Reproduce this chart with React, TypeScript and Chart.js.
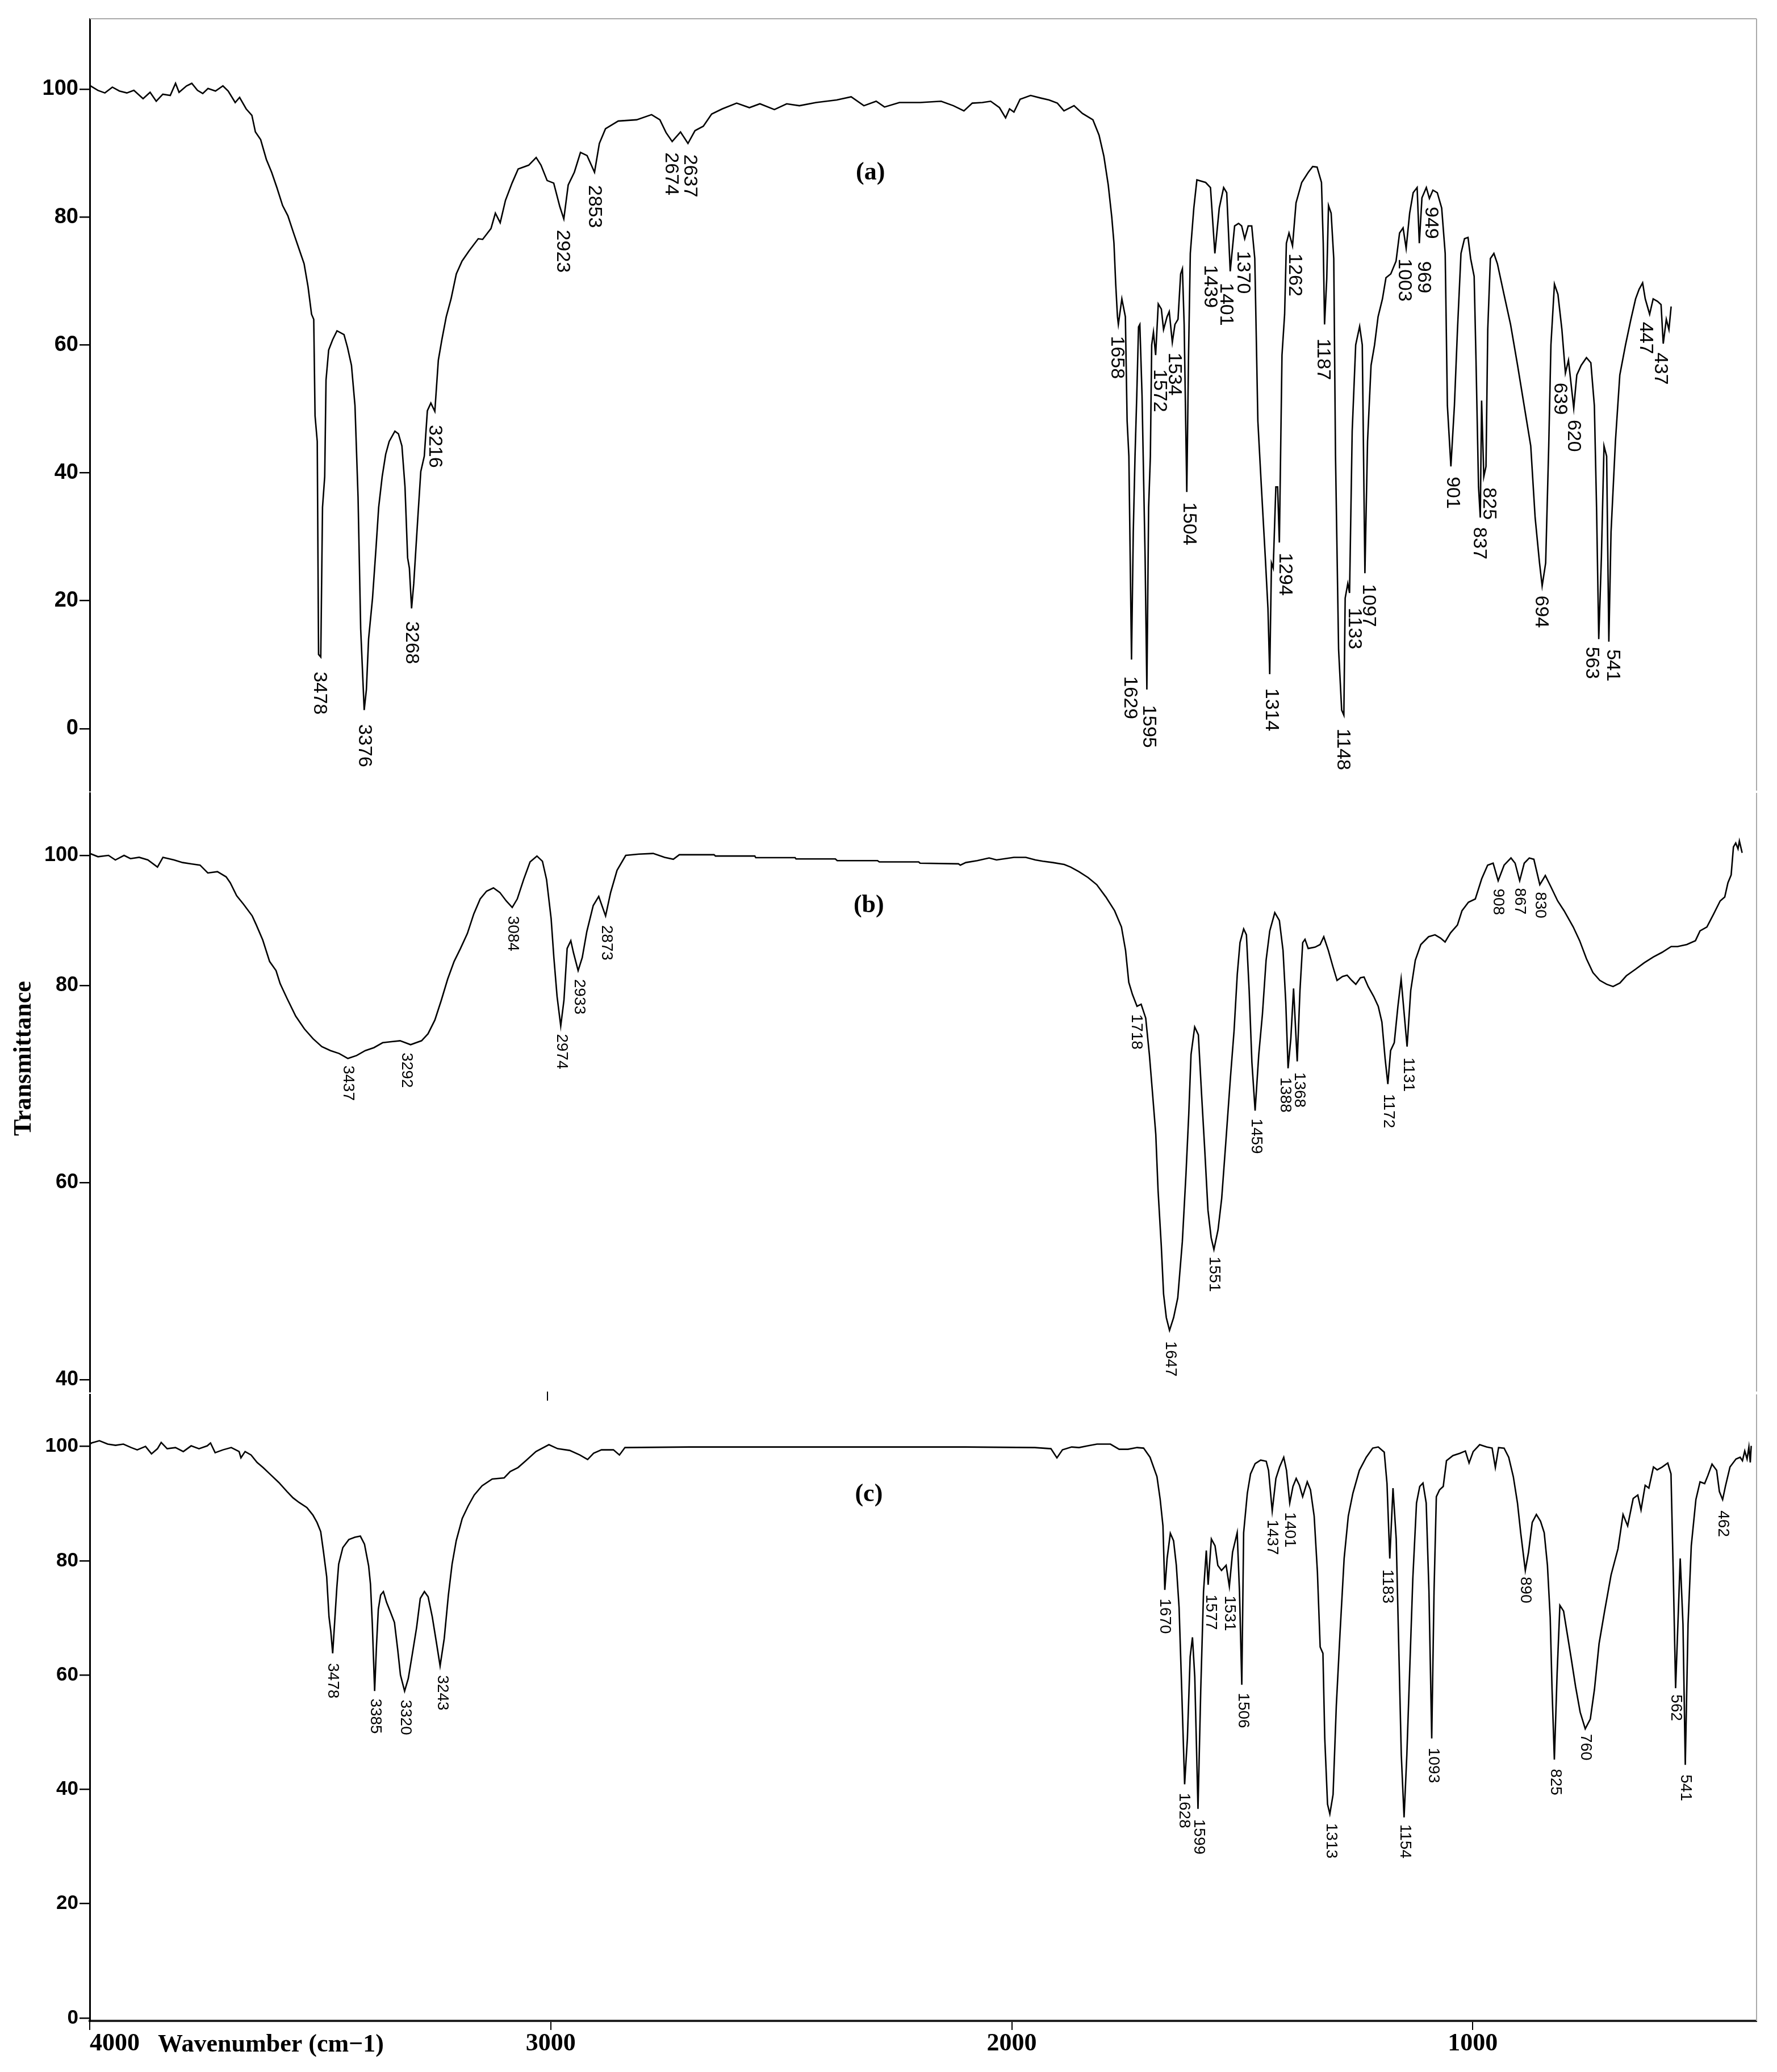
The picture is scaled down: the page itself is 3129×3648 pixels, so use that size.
import React, { useEffect, useRef } from 'react';
import { Chart, registerables, LinearScale } from 'chart.js';

Chart.register(...registerables);

// ---------- piece-wise y scale used by panel (b): 80-100 band is compressed ----------
const BREAK_AT = 80;
const BREAK_K = 0.6607;
const toVirtual = (v: number) => (v <= BREAK_AT ? v : BREAK_AT + (v - BREAK_AT) * BREAK_K);
const fromVirtual = (u: number) => (u <= BREAK_AT ? u : BREAK_AT + (u - BREAK_AT) / BREAK_K);

class BrokenLinearScale extends LinearScale {
  static id = 'brokenLinear';
  getPixelForValue(value: number) {
    return super.getPixelForValue(toVirtual(value));
  }
  getValueForPixel(pixel: number) {
    return fromVirtual(super.getValueForPixel(pixel) as number);
  }
}
Chart.register(BrokenLinearScale);

const SANS = '"Liberation Sans", Arial, sans-serif';
const SERIF = '"Liberation Serif", "Times New Roman", serif';

// ---------------- DATA ----------------
const yTicksAC = [0, 20, 40, 60, 80, 100];
const yTicksB = [40, 60, 80, 100];
const xTickValues = [1000, 2000, 3000, 4000];
const xAxisTitle = 'Wavenumber (cm\u22121)';
const yAxisTitle = 'Transmittance';
const panelTags = ['(a)', '(b)', '(c)'];

// Panel (a)
const waveA = [4000,3983,3967,3950,3934,3917,3901,3880,3864,3850,3835,3818,3806,3798,3781,3769,3756,3744,3732,3715,3698,3686,3670,3660,3645,3632,3624,3612,3599,3587,3575,3562,3550,3537,3525,3513,3504,3496,3491,3488,3483,3480,3475,3471,3466,3463,3457,3448,3438,3422,3414,3405,3397,3390,3384,3376,3371,3366,3357,3349,3343,3335,3327,3319,3306,3298,3290,3283,3277,3273,3268,3263,3258,3253,3247,3239,3232,3224,3215,3207,3199,3189,3178,3166,3153,3137,3116,3106,3087,3077,3066,3054,3039,3025,3001,2984,2973,2959,2944,2930,2921,2911,2897,2883,2868,2851,2840,2826,2797,2755,2721,2702,2688,2674,2655,2638,2622,2603,2584,2560,2527,2498,2474,2441,2413,2384,2346,2299,2266,2237,2209,2190,2156,2109,2061,2033,2009,1990,1967,1948,1928,1914,1905,1895,1881,1857,1834,1815,1796,1781,1758,1739,1715,1701,1690,1680,1672,1667,1663,1659,1657,1649,1641,1637,1633,1627,1623,1619,1615,1611,1608,1603,1596,1592,1588,1584,1581,1577,1572,1566,1559,1554,1546,1541,1534,1528,1521,1515,1511,1507,1501,1497,1493,1485,1478,1458,1447,1437,1427,1417,1410,1402,1392,1383,1376,1369,1361,1353,1346,1339,1331,1322,1316,1312,1308,1304,1298,1294,1290,1284,1278,1274,1268,1260,1252,1239,1224,1214,1204,1194,1190,1187,1182,1178,1172,1166,1162,1155,1148,1143,1140,1134,1130,1124,1116,1107,1101,1095,1089,1081,1073,1065,1055,1047,1036,1024,1016,1008,1001,993,985,976,971,965,955,948,940,930,920,912,907,899,891,884,876,868,860,854,846,842,836,832,829,824,819,815,809,801,793,778,763,747,732,717,707,697,691,683,676,671,663,655,646,638,631,619,612,602,590,580,572,567,562,556,550,544,539,534,524,514,501,489,478,470,462,456,446,438,428,420,415,408,402,397];
const transA = [100.5,99.8,99.4,100.3,99.7,99.4,99.8,98.5,99.5,98.1,99.2,99.0,100.9,99.5,100.5,100.9,99.8,99.3,100.1,99.7,100.5,99.7,97.9,98.7,96.9,95.9,93.3,92.1,89.0,87.0,84.6,81.8,80.2,77.5,75.1,72.7,69.1,64.8,64.0,48.9,44.9,11.6,11.2,34.6,39.4,54.5,59.2,60.8,62.2,61.6,59.6,56.8,50.5,36.2,15.6,2.9,6.1,14.0,20.4,28.3,34.6,39.4,42.9,44.9,46.5,46.1,44.2,37.8,26.7,25.1,18.8,22.7,28.3,33.8,40.2,42.6,49.7,50.9,49.6,57.6,60.8,64.4,67.2,71.1,73.1,74.7,76.6,76.5,78.2,80.6,79.1,82.6,85.3,87.5,88.1,89.3,88.1,85.7,85.3,81.6,79.7,85.0,87.0,90.1,89.6,87.0,91.5,93.8,95.0,95.2,96.0,95.2,93.2,91.8,93.3,91.5,93.5,94.2,96.1,96.9,97.8,97.1,97.7,96.8,97.7,97.4,97.9,98.3,98.8,97.4,98.1,97.2,97.9,97.9,98.1,97.4,96.6,97.8,97.9,98.1,97.1,95.5,96.9,96.4,98.4,99.0,98.6,98.3,97.8,96.6,97.4,96.2,95.2,92.8,89.5,85.0,80.0,75.9,69.5,64.4,63.2,67.2,64.4,48.1,42.6,10.8,30.7,42.6,52.1,62.8,63.2,52.1,26.7,6.1,34.6,42.6,60.0,62.0,58.4,66.4,65.6,62.4,64.4,65.2,60.4,63.2,64.0,71.1,71.9,63.2,37.0,58.4,74.3,81.4,85.8,85.4,84.6,74.3,81.4,84.6,83.8,71.5,78.6,79.0,78.6,76.6,78.6,78.6,73.5,48.1,37.8,26.7,18.8,8.5,25.9,25.1,37.8,37.8,29.1,58.4,64.8,75.9,77.5,75.5,82.2,85.4,87.0,87.9,87.8,85.4,75.9,63.2,70.3,81.8,80.6,73.5,42.6,12.4,2.9,2.1,20.4,22.7,21.2,46.5,60.0,62.9,60.0,24.3,44.9,56.8,60.0,64.4,67.2,70.5,71.1,73.1,77.5,78.3,75.1,80.6,83.8,84.6,75.9,83.0,84.6,82.9,84.2,83.8,81.4,74.3,50.5,41.0,50.5,62.4,74.3,76.6,76.8,73.5,70.7,58.4,37.8,33.0,51.3,39.4,41.0,62.4,73.5,74.3,72.7,67.9,63.2,56.8,50.5,44.2,33.0,25.9,22.3,25.9,44.2,60.0,69.5,67.9,62.4,55.6,57.6,50.1,55.3,56.8,58.0,57.2,50.5,34.6,14.0,26.7,44.2,42.6,13.6,30.7,44.9,55.3,60.0,63.9,67.2,68.7,69.7,67.2,64.8,67.2,66.8,66.3,60.2,64.0,62.4,66.0];
const peakTextA = ['3478','3376','3268','3216','2923','2853','2674','2637','1658','1629','1595','1572','1534','1504','1439','1401','1370','1314','1294','1262','1187','1148','1133','1097','1003','969','949','901','837','825','694','639','620','563','541','447','437'];
const peakWaveA = [3478,3376,3269,3215,2924,2851,2677,2634,1661,1631,1588,1564,1530,1496,1448,1412,1373,1308,1278,1256,1191,1146,1120,1087,1006,962,945,896,835,813,694,651,620,578,531,456,422];
const peakTransA = [8.9,0.7,16.8,47.5,78.0,85.0,90.1,89.8,61.4,8.2,3.7,56.2,58.8,35.4,72.5,69.7,74.7,6.3,27.5,74.3,61.0,0.0,18.9,22.6,73.5,73.1,81.6,39.4,31.5,37.7,20.8,54.1,48.3,12.8,12.4,63.6,58.8];

// Panel (b)
const waveB = [4000,3982,3959,3944,3925,3911,3892,3873,3852,3840,3816,3797,3778,3759,3742,3721,3702,3693,3679,3664,3645,3636,3622,3607,3593,3584,3569,3550,3531,3512,3493,3474,3455,3436,3417,3398,3379,3360,3341,3322,3299,3275,3261,3246,3232,3218,3204,3190,3175,3161,3147,3133,3118,3104,3090,3077,3066,3052,3038,3023,3011,3002,2992,2986,2979,2971,2964,2957,2949,2943,2933,2924,2914,2900,2888,2873,2862,2848,2829,2800,2769,2744,2725,2712,2636,2633,2547,2545,2459,2457,2371,2367,2279,2275,2189,2186,2102,2098,2086,2061,2035,2019,2000,1981,1955,1934,1918,1896,1871,1857,1839,1819,1800,1780,1761,1746,1737,1730,1722,1712,1703,1693,1685,1678,1671,1666,1659,1654,1648,1641,1632,1623,1613,1605,1599,1594,1586,1578,1571,1564,1557,1550,1544,1535,1527,1518,1508,1500,1493,1487,1479,1473,1467,1461,1454,1446,1438,1430,1422,1411,1401,1393,1387,1382,1376,1370,1362,1356,1350,1345,1338,1323,1312,1304,1294,1284,1275,1263,1253,1243,1234,1224,1216,1207,1195,1185,1177,1170,1164,1158,1150,1142,1135,1129,1122,1114,1104,1092,1075,1061,1049,1039,1027,1012,1002,988,973,959,946,934,923,910,895,886,876,866,855,845,832,820,808,793,779,759,745,730,716,701,686,672,657,643,623,604,584,565,545,531,511,492,482,467,453,438,428,421,414,409,404,399,396,390];
const transB = [100.3,99.8,100.0,99.3,100.0,99.5,99.7,99.3,98.2,99.7,99.3,98.9,98.7,98.5,97.3,97.5,96.7,95.8,93.8,92.5,90.7,89.3,87.0,83.7,82.3,80.3,78.7,76.9,75.6,74.6,73.8,73.4,73.1,72.6,72.9,73.4,73.7,74.2,74.3,74.4,74.0,74.4,75.1,76.5,78.5,81.0,83.7,85.7,88.0,91.0,93.3,94.5,95.0,94.3,93.0,92.0,93.3,96.3,99.0,99.9,99.1,96.3,90.3,84.3,78.9,75.9,78.5,85.7,86.9,85.0,82.3,84.3,88.3,92.3,93.7,90.7,94.3,97.7,100.0,100.2,100.3,99.7,99.4,100.1,100.1,99.9,99.9,99.65,99.65,99.45,99.45,99.2,99.2,99.0,99.0,98.8,98.7,98.5,98.9,99.2,99.6,99.3,99.5,99.7,99.7,99.3,99.1,98.9,98.6,98.2,97.5,96.6,95.5,93.6,91.5,89.0,85.4,80.5,79.1,77.9,78.1,76.7,73.0,69.0,64.9,59.2,53.6,48.7,46.3,45.0,46.3,48.3,54.0,60.9,66.9,73.0,75.8,75.0,69.0,63.3,57.2,54.4,53.2,55.2,58.4,64.1,70.6,75.4,81.7,86.6,88.7,87.8,79.5,72.2,67.3,73.0,77.1,83.9,88.4,91.2,90.0,85.4,78.3,71.6,74.6,79.7,72.3,79.5,86.6,87.1,85.7,85.9,86.3,87.5,85.4,82.9,80.8,81.4,81.6,80.8,80.2,81.2,81.3,79.9,78.9,77.9,76.3,72.6,70.0,73.4,74.2,77.9,81.0,77.5,73.8,79.5,83.9,86.3,87.5,87.8,87.3,86.7,88.1,89.3,91.5,92.8,93.3,96.4,98.5,98.8,96.1,98.5,99.6,98.8,96.1,98.8,99.6,99.4,95.5,96.9,95.2,93.0,91.5,89.0,86.9,84.1,82.0,80.8,80.2,79.9,80.4,81.5,82.5,83.5,84.4,85.1,86.0,86.0,86.3,86.9,88.4,89.0,90.9,93.0,93.6,95.8,97.0,101.3,101.9,101.0,102.2,100.4];
const peakTextB = ['3437','3292','3084','2974','2933','2873','1718','1647','1551','1459','1388','1368','1172','1131','908','867','830'];
const peakWaveB = [3436,3308,3076,2969,2931,2871,1714,1639,1544,1452,1389,1358,1163,1119,923,876,832];
const peakTransB = [71.9,73.2,90.7,75.1,81.0,89.3,77.1,43.9,52.5,66.5,70.7,71.2,69.0,72.7,94.9,95.0,94.4];

// Panel (c)
const waveC = [4000,3996,3979,3961,3944,3927,3910,3897,3879,3866,3853,3845,3832,3814,3797,3780,3763,3745,3738,3728,3711,3693,3676,3672,3663,3650,3637,3624,3607,3590,3572,3559,3546,3529,3516,3507,3499,3493,3486,3481,3477,3473,3469,3464,3460,3451,3438,3425,3413,3404,3395,3391,3387,3382,3378,3374,3369,3363,3356,3348,3339,3332,3326,3317,3309,3300,3291,3283,3274,3266,3257,3248,3240,3231,3222,3214,3205,3192,3179,3166,3149,3127,3101,3088,3071,3054,3032,3004,2985,2959,2937,2920,2907,2890,2864,2851,2839,2700,2500,2300,2100,1950,1915,1902,1890,1870,1854,1835,1815,1786,1767,1748,1728,1714,1700,1685,1678,1672,1668,1663,1656,1649,1643,1637,1632,1625,1619,1613,1608,1603,1596,1590,1584,1578,1574,1567,1559,1553,1545,1535,1528,1521,1511,1506,1501,1497,1489,1482,1472,1460,1448,1443,1435,1427,1419,1410,1404,1397,1390,1383,1376,1369,1359,1352,1344,1337,1331,1325,1321,1315,1310,1303,1296,1288,1279,1270,1260,1246,1231,1217,1205,1192,1186,1180,1173,1166,1160,1155,1149,1143,1137,1130,1122,1115,1108,1101,1095,1089,1084,1079,1072,1064,1057,1043,1028,1016,1008,999,985,970,958,951,944,932,922,912,903,896,886,879,871,862,853,845,838,832,828,823,817,811,803,795,787,777,767,756,745,736,726,714,700,685,674,664,652,642,635,626,618,608,600,589,577,570,565,560,555,550,544,539,533,526,516,507,497,490,481,471,465,458,452,442,429,420,415,410,405,401,398,396];
const transC = [100.4,100.6,101.0,100.4,100.2,100.4,99.8,99.4,100.0,98.7,99.6,100.7,99.6,99.8,99.1,100.1,99.6,100.1,100.6,98.9,99.4,99.8,99.1,98.0,99.1,98.5,97.2,96.3,95.0,93.7,92.1,91.0,90.2,89.3,88.0,86.7,85.1,81.6,77.2,70.2,67.6,63.8,68.9,75.3,79.4,82.3,83.7,84.1,84.3,82.9,79.1,75.9,68.9,57.2,65.1,71.5,74.0,74.6,72.7,71.1,69.2,64.5,60.0,57.2,59.4,63.8,68.3,73.4,74.6,73.7,70.2,65.7,61.6,66.4,74.0,79.4,83.5,87.4,89.6,91.5,93.1,94.3,94.5,95.6,96.3,97.5,99.1,100.3,99.6,99.3,98.5,97.7,98.8,99.4,99.4,98.5,99.8,99.9,99.9,99.9,99.9,99.8,99.6,98.0,99.4,99.9,99.8,100.1,100.4,100.4,99.5,99.5,99.8,99.7,98.1,94.7,90.7,86.1,74.9,80.4,84.8,83.5,79.2,71.8,59.2,40.9,48.9,63.2,66.6,59.7,36.6,57.5,74.6,81.8,75.8,83.8,82.6,79.2,78.3,79.2,75.5,81.5,84.9,74.6,58.3,84.9,91.8,95.2,97.0,97.6,97.4,95.8,88.7,94.4,96.4,98.1,95.8,90.1,93.0,94.4,93.2,91.2,93.8,92.4,87.8,78.1,64.9,63.8,48.9,37.4,35.7,39.1,54.6,67.2,80.4,87.8,91.8,95.8,98.1,99.7,99.9,99.0,93.5,80.4,92.7,83.8,63.2,46.0,35.1,46.0,60.3,76.9,90.1,93.0,93.6,90.1,74.6,48.9,74.6,91.2,92.4,93.0,97.5,98.4,98.8,99.2,97.1,99.1,100.3,99.9,99.7,96.3,99.8,99.7,98.1,94.7,90.1,84.9,78.3,81.5,86.7,88.1,86.9,84.9,79.2,70.1,57.5,45.2,60.3,72.2,71.2,67.2,63.2,58.0,53.5,50.6,52.3,57.5,65.5,71.2,77.5,82.1,88.1,86.1,90.9,91.5,88.9,93.2,92.7,96.4,95.9,96.4,97.1,95.2,77.5,57.7,68.9,80.4,68.9,44.3,68.9,82.6,90.7,93.8,93.5,94.9,96.9,95.8,92.1,90.7,93.0,96.4,97.8,98.1,97.5,99.2,97.8,99.9,97.2,100.1];
const peakTextC = ['3478','3385','3320','3243','1670','1628','1599','1577','1531','1506','1437','1401','1313','1183','1154','1093','890','825','760','562','541','462'];
const peakWaveC = [3473,3381,3316,3235,1668,1627,1595,1568,1528,1498,1435,1397,1308,1186,1147,1086,886,821,755,560,539,457];
const peakTransC = [62.1,55.9,55.7,60.0,73.4,39.4,34.8,74.1,73.9,56.9,87.2,88.5,34.1,78.5,33.9,47.3,77.2,43.6,49.7,56.6,42.6,88.8];

// tag anchors (wavenumber, transmittance) for "(a)", "(b)", "(c)"
const tagWave = [2222, 2298, 2310];
const tagTrans = [86.9, 92.3, 91.5];

// ---------------- helpers ----------------
const toPoints = (w: number[], t: number[]) => w.map((x, i) => ({ x, y: t[i] }));

function annotationPlugin(texts: string[], waves: number[], trans: number[], size: number, tag: string, tagW: number, tagT: number, extra?: (chart: any) => void) {
  return {
    id: 'peakAnnotations',
    afterDatasetsDraw(chart: any) {
      const { ctx, scales } = chart;
      const xs = scales.x;
      const ys = scales.y;
      ctx.save();
      ctx.fillStyle = '#000';
      ctx.font = `${size}px ${SANS}`;
      ctx.textAlign = 'left';
      ctx.textBaseline = 'middle';
      texts.forEach((t, i) => {
        const px = xs.getPixelForValue(waves[i]);
        const py = ys.getPixelForValue(trans[i]);
        ctx.save();
        ctx.translate(px, py);
        ctx.rotate(Math.PI / 2);
        ctx.fillText(t, 0, 0);
        ctx.restore();
      });
      ctx.font = `bold 44px ${SERIF}`;
      ctx.textAlign = 'center';
      ctx.fillText(tag, xs.getPixelForValue(tagW), ys.getPixelForValue(tagT));
      ctx.restore();
      if (extra) extra(chart);
    },
  };
}

function framePlugin(drawTop: boolean) {
  return {
    id: 'frameLines',
    afterDraw(chart: any) {
      const { ctx, chartArea } = chart;
      ctx.save();
      ctx.strokeStyle = '#a9a9a9';
      ctx.lineWidth = 2;
      ctx.beginPath();
      ctx.moveTo(chartArea.right, chartArea.top);
      ctx.lineTo(chartArea.right, chartArea.bottom);
      if (drawTop) {
        ctx.moveTo(chartArea.left, chartArea.top);
        ctx.lineTo(chartArea.right, chartArea.top);
      }
      ctx.stroke();
      ctx.restore();
    },
  };
}

function yAxis(type: string, min: number, max: number, ticks: number[], fontSize: number) {
  return {
    type,
    min,
    max,
    position: 'left',
    afterFit: (s: any) => { s.width = 158; },
    afterBuildTicks: (s: any) => { s.ticks = ticks.map((v) => ({ value: v })); },
    border: { display: true, color: '#000', width: 3 },
    grid: { drawOnChartArea: false, drawTicks: true, tickLength: 18, color: '#000', lineWidth: 2.5 },
    ticks: {
      color: '#000',
      padding: 2,
      font: { family: SANS, size: fontSize, weight: 'bold' },
      callback: (v: any) => String(v),
    },
  };
}

const baseOptions = {
  responsive: false,
  animation: false,
  devicePixelRatio: 1,
  events: [],
  parsing: false,
  normalized: true,
  plugins: { legend: { display: false }, tooltip: { enabled: false }, title: { display: false } },
  elements: { point: { radius: 0 }, line: { tension: 0 } },
};

function lineDataset(w: number[], t: number[]) {
  return {
    data: toPoints(w, t),
    borderColor: '#000',
    borderWidth: 2.6,
    pointRadius: 0,
    fill: false,
    tension: 0,
  };
}

function makeA(canvas: HTMLCanvasElement) {
  return new Chart(canvas, {
    type: 'line',
    data: { datasets: [lineDataset(waveA, transA) as any] },
    options: {
      ...baseOptions,
      layout: { padding: { top: 33, bottom: 48, left: 0, right: 36 } },
      scales: {
        x: { type: 'linear', reverse: true, min: 202.3, max: 4001.6, display: false },
        y: yAxis('linear', -9.7, 111, yTicksAC, 38),
      },
    } as any,
    plugins: [annotationPlugin(peakTextA, peakWaveA, peakTransA, 34, panelTags[0], tagWave[0], tagTrans[0]), framePlugin(true)],
  });
}

function makeB(canvas: HTMLCanvasElement) {
  const drawYTitle = (chart: any) => {
    const { ctx, scales } = chart;
    ctx.save();
    ctx.fillStyle = '#000';
    ctx.font = `bold 44px ${SERIF}`;
    ctx.textAlign = 'center';
    ctx.textBaseline = 'middle';
    ctx.translate(scales.y.left + 43, scales.y.getPixelForValue(72.6));
    ctx.rotate(-Math.PI / 2);
    ctx.fillText(yAxisTitle, 0, 0);
    ctx.restore();
  };
  return new Chart(canvas, {
    type: 'line',
    data: { datasets: [lineDataset(waveB, transB) as any] },
    options: {
      ...baseOptions,
      layout: { padding: { top: 46, bottom: 34, left: 0, right: 36 } },
      scales: {
        x: {
          type: 'linear', reverse: true, min: 358.5, max: 4000,
          afterFit: (s: any) => { s.height = 16; },
          afterBuildTicks: (s: any) => { s.ticks = [{ value: 3000 }]; },
          border: { display: false },
          grid: { drawOnChartArea: false, drawTicks: true, tickLength: 16, color: '#000', lineWidth: 2 },
          ticks: { display: false },
        },
        y: yAxis('brokenLinear', 38.79, toVirtual(109.6), yTicksB, 36),
      },
    } as any,
    plugins: [annotationPlugin(peakTextB, peakWaveB, peakTransB, 28, panelTags[1], tagWave[1], tagTrans[1], drawYTitle), framePlugin(false)],
  });
}

function makeC(canvas: HTMLCanvasElement) {
  const drawXTitle = (chart: any) => {
    const { ctx, chartArea } = chart;
    ctx.save();
    ctx.fillStyle = '#000';
    ctx.font = `bold 44px ${SERIF}`;
    ctx.textAlign = 'left';
    ctx.textBaseline = 'alphabetic';
    ctx.fillText(xAxisTitle, chartArea.left + 120, chartArea.bottom + 54);
    ctx.restore();
  };
  const xMin = 384.4;
  return new Chart(canvas, {
    type: 'line',
    data: { datasets: [lineDataset(waveC, transC) as any] },
    options: {
      ...baseOptions,
      layout: { padding: { top: 55, bottom: 0, left: 0, right: 36 } },
      scales: {
        x: {
          type: 'linear', reverse: true, min: xMin, max: 4000,
          afterFit: (s: any) => { s.height = 90; },
          afterBuildTicks: (s: any) => { s.ticks = [xMin, ...xTickValues].map((v) => ({ value: v })); },
          border: { display: true, color: '#222', width: 4 },
          grid: {
            drawOnChartArea: false, drawTicks: true, tickLength: 16, lineWidth: 2,
            color: (ctx: any) => (ctx.tick && ctx.tick.value < 900 ? 'rgba(0,0,0,0)' : '#000'),
          },
          ticks: {
            color: '#000', padding: -2, align: 'inner', maxRotation: 0, autoSkip: false,
            font: { family: SERIF, size: 44, weight: 'bold' },
            callback: (v: any) => (v < 900 ? '' : String(v)),
          },
        },
        y: yAxis('linear', -0.5, 109.1, yTicksAC, 35),
      },
    } as any,
    plugins: [annotationPlugin(peakTextC, peakWaveC, peakTransC, 28, panelTags[2], tagWave[2], tagTrans[2], drawXTitle), framePlugin(false)],
  });
}

export default function App() {
  const refA = useRef<HTMLCanvasElement>(null);
  const refB = useRef<HTMLCanvasElement>(null);
  const refC = useRef<HTMLCanvasElement>(null);

  useEffect(() => {
    const charts = [makeA(refA.current!), makeB(refB.current!), makeC(refC.current!)];
    return () => charts.forEach((c) => c.destroy());
  }, []);

  const cs = (top: number, h: number): React.CSSProperties => ({ position: 'absolute', left: 0, top, width: 3129, height: h, display: 'block' });

  return (
    <div style={{ position: 'absolute', left: 0, top: 0, width: 3129, height: 3648, background: '#fff', overflow: 'hidden' }}>
      <canvas ref={refA} width={3129} height={1440} style={cs(0, 1440)} />
      <canvas ref={refB} width={3129} height={1150} style={cs(1350, 1150)} />
      <canvas ref={refC} width={3129} height={1248} style={cs(2400, 1248)} />
    </div>
  );
}
